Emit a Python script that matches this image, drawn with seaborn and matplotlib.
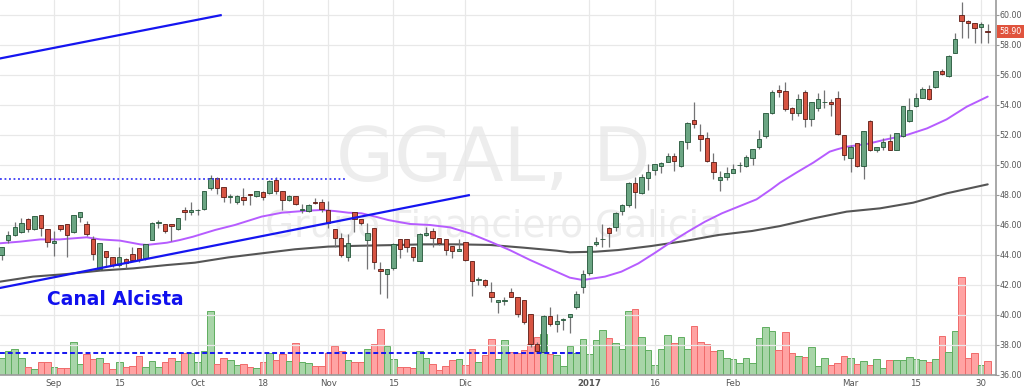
import matplotlib
matplotlib.use("Agg")
import matplotlib.pyplot as plt
import matplotlib.transforms as mtransforms
import numpy as np
import pandas as pd
import seaborn as sns

# ---------------- data ----------------
opens = [44.0, 45.0, 45.33, 45.56, 46.4, 45.71, 46.67, 45.71, 44.78, 46.0,
         46.07, 45.51, 46.56, 46.04, 45.04, 43.07, 44.27, 43.84, 43.33, 43.76,
         44.04, 44.44, 43.78, 45.0, 46.11, 46.07, 46.07, 45.76, 47.0, 46.84,
         46.98, 47.04, 48.49, 49.16, 48.51, 47.88, 47.51, 47.89, 48.07, 47.96,
         48.22, 48.11, 49.0, 48.27, 47.67, 47.93, 47.0, 46.96, 47.51, 47.51,
         47.0, 45.71, 45.16, 43.89, 46.89, 46.4, 45.0, 45.78, 43.04, 42.71,
         43.11, 45.04, 45.04, 44.51, 43.6, 45.31, 45.62, 45.11, 45.04, 44.6,
         44.27, 44.87, 43.6, 42.36, 42.33, 41.56, 40.84, 40.93, 41.56, 41.18,
         41.0, 40.04, 38.04, 37.56, 39.96, 39.38, 39.7, 39.84, 40.51, 41.84,
         42.78, 44.71, 45.04, 45.82, 45.89, 46.96, 47.33, 48.82, 48.16, 49.11,
         49.67, 49.93, 50.22, 50.6, 49.93, 51.56, 53.0, 52.0, 51.78, 50.22,
         49.0, 49.22, 49.49, 49.98, 49.96, 50.44, 51.18, 51.93, 53.44, 55.0,
         54.93, 53.78, 53.44, 54.84, 53.04, 53.78, 54.17, 54.18, 54.49, 52.0,
         50.44, 51.44, 49.96, 52.96, 51.0, 51.18, 51.58, 51.0, 51.93, 52.96,
         53.93, 54.49, 55.07, 55.18, 56.29, 55.96, 57.49, 60.0, 59.6, 59.44,
         59.22, 58.93]
highs = [44.55, 45.62, 46.22, 46.44, 46.44, 46.62, 46.67, 45.73, 45.6, 46.02,
         46.1, 46.67, 46.84, 46.29, 45.27, 44.8, 44.3, 43.86, 44.56, 43.78,
         44.56, 44.46, 44.75, 46.2, 46.33, 46.1, 46.1, 46.5, 47.22, 47.56,
         47.1, 48.3, 49.33, 49.2, 48.53, 48.1, 48.0, 48.44, 48.1, 48.3,
         48.24, 49.0, 49.22, 48.3, 48.0, 47.95, 47.4, 47.4, 47.78, 47.73,
         47.62, 45.73, 45.44, 45.4, 46.9, 46.42, 46.11, 45.8, 43.56, 43.1,
         44.8, 45.1, 45.06, 44.55, 45.44, 45.89, 45.78, 45.13, 45.1, 44.62,
         45.04, 44.9, 43.62, 42.56, 42.4, 42.22, 41.0, 41.2, 41.78, 41.2,
         41.02, 40.06, 38.2, 40.0, 40.56, 40.07, 39.8, 40.1, 41.6, 43.0,
         44.6, 45.18, 46.04, 45.84, 46.9, 47.4, 48.9, 49.22, 49.4, 50.04,
         50.1, 50.2, 50.82, 50.82, 51.6, 52.9, 54.18, 52.73, 52.2, 50.78,
         49.6, 49.84, 50.1, 50.22, 50.7, 51.1, 52.33, 53.5, 55.0, 55.33,
         55.51, 53.9, 54.73, 55.0, 54.2, 54.78, 55.0, 54.38, 54.96, 52.02,
         51.33, 51.46, 52.27, 53.0, 51.22, 51.78, 52.1, 52.11, 53.93, 54.44,
         54.78, 55.18, 55.33, 56.3, 56.4, 57.33, 58.78, 60.84, 59.7, 59.5,
         59.56, 59.38]
lows = [43.67, 44.82, 45.3, 45.49, 45.56, 45.7, 45.27, 44.56, 43.93, 45.6,
        43.89, 45.5, 46.22, 45.3, 43.67, 43.0, 43.29, 43.18, 43.18, 43.11,
        43.6, 43.51, 43.67, 45.0, 45.78, 45.5, 44.96, 45.7, 46.33, 46.67,
        46.67, 47.0, 48.33, 48.04, 47.56, 47.44, 47.4, 47.33, 47.33, 47.9,
        47.67, 48.1, 48.04, 47.0, 47.6, 47.33, 46.8, 46.9, 47.4, 46.9,
        45.78, 44.56, 43.9, 43.62, 45.56, 46.0, 43.04, 43.04, 41.38, 41.16,
        43.0, 43.78, 44.18, 43.6, 43.58, 45.3, 44.51, 44.7, 44.0, 43.78,
        44.25, 43.6, 41.27, 42.0, 41.84, 40.89, 40.11, 40.7, 41.2, 39.89,
        39.4, 37.89, 37.5, 37.5, 39.3, 38.89, 39.0, 38.78, 40.4, 41.49,
        42.7, 44.6, 44.56, 44.56, 45.6, 46.67, 47.2, 47.11, 48.1, 48.33,
        49.33, 49.5, 50.2, 49.62, 49.9, 51.04, 52.44, 50.93, 50.2, 49.04,
        48.29, 49.0, 49.45, 49.55, 49.9, 50.0, 51.1, 51.8, 53.4, 54.51,
        53.6, 53.0, 53.3, 52.56, 52.6, 53.6, 53.8, 53.29, 52.0, 50.33,
        49.56, 49.9, 49.07, 50.95, 50.9, 51.0, 51.0, 51.0, 51.9, 52.9,
        53.9, 54.45, 54.35, 55.15, 56.0, 55.9, 57.45, 58.49, 58.44, 58.16,
        58.16, 58.16]
closes = [44.51, 45.33, 45.89, 46.16, 45.73, 46.62, 45.78, 44.89, 44.96, 45.71,
          45.33, 46.67, 46.84, 45.38, 44.04, 44.78, 43.89, 43.33, 43.84, 43.44,
          43.67, 43.67, 44.71, 46.11, 46.2, 45.6, 45.96, 46.44, 46.87, 47.0,
          47.0, 48.27, 49.16, 48.49, 47.84, 47.93, 47.93, 47.67, 48.02, 48.27,
          47.89, 48.93, 48.29, 47.67, 47.93, 47.4, 47.04, 47.33, 47.44, 47.04,
          46.16, 45.11, 44.0, 44.82, 46.38, 46.11, 45.44, 43.56, 42.93, 43.04,
          44.71, 44.38, 44.51, 43.89, 45.4, 45.49, 45.16, 44.78, 44.33, 44.27,
          44.4, 43.67, 42.27, 42.38, 42.0, 41.22, 41.0, 40.96, 41.22, 40.04,
          39.51, 38.04, 37.6, 39.96, 39.38, 39.62, 39.71, 40.07, 41.4, 42.71,
          44.6, 44.89, 45.07, 45.49, 46.82, 47.33, 48.78, 48.22, 49.18, 49.56,
          50.07, 50.16, 50.6, 50.29, 51.6, 52.82, 52.73, 51.73, 50.29, 49.56,
          49.22, 49.49, 49.73, 50.0, 50.51, 51.04, 51.71, 53.44, 54.89, 54.89,
          53.71, 53.49, 54.38, 53.07, 54.18, 54.38, 54.18, 54.07, 52.07, 50.67,
          51.22, 49.96, 52.27, 51.0, 51.22, 51.56, 51.0, 52.11, 53.93, 53.67,
          54.49, 55.07, 54.38, 56.27, 56.07, 57.29, 58.38, 59.6, 59.44, 59.11,
          59.38, 58.9]
volumes = [1.67, 2.4, 2.57, 1.73, 0.83, 0.63, 1.33, 1.3, 0.83, 0.67,
           0.73, 3.3, 1.07, 2.07, 1.63, 1.73, 1.23, 0.57, 1.3, 0.8,
           0.9, 1.9, 0.83, 1.4, 0.8, 1.33, 1.67, 1.4, 2.23, 2.23,
           1.3, 2.4, 6.4, 1.07, 1.73, 1.47, 1.0, 1.07, 0.8, 0.67,
           1.33, 2.23, 1.47, 2.13, 1.4, 3.17, 1.3, 1.2, 0.9, 0.9,
           2.23, 2.9, 2.4, 1.47, 1.33, 1.33, 2.57, 3.07, 4.57, 2.9,
           1.57, 0.8, 0.8, 0.67, 2.4, 1.73, 1.07, 0.5, 0.9, 1.47,
           1.57, 1.0, 2.57, 1.3, 2.0, 3.57, 1.57, 3.47, 2.3, 2.23,
           2.47, 3.07, 3.8, 4.07, 2.07, 2.0, 0.9, 2.9, 2.23, 3.57,
           2.13, 3.47, 4.47, 3.73, 3.17, 2.57, 6.4, 6.57, 3.8, 2.47,
           1.0, 2.57, 4.0, 3.17, 3.8, 2.57, 4.9, 3.3, 3.07, 2.4,
           2.47, 1.73, 1.57, 1.23, 1.73, 1.23, 3.67, 4.83, 4.4, 2.47,
           4.33, 2.23, 1.9, 1.8, 2.83, 0.9, 1.73, 0.97, 1.23, 1.9,
           1.73, 1.13, 1.4, 1.0, 1.57, 0.73, 1.5, 1.5, 1.5, 1.8,
           1.63, 1.5, 1.33, 1.57, 3.9, 2.33, 4.4, 9.8, 1.73, 2.23,
           1.0, 1.4]

tick_idx = [8, 18, 30, 40, 50, 60, 71, 90, 100, 112, 130, 140, 150]
tick_labels = ['Sep', '15', 'Oct', '18', 'Nov', '15', 'Dic', '2017', '16',
               'Feb', 'Mar', '15', '30']

ma_fast_idx = [-0.3, 2.8, 5.9, 8.9, 13.0, 15.1, 18.1, 21.2, 22.2, 25.3, 27.3,
               29.3, 32.7, 35.7, 39.8, 42.9, 44.9, 47.0, 49.0, 51.0, 53.1, 55.1,
               57.2, 59.2, 62.5, 65.6, 68.7, 71.7, 74.8, 77.8, 80.9, 84.0, 87.0,
               89.0, 92.4, 94.9, 97.5, 100.1, 102.6, 105.1, 107.7, 110.3, 112.8,
               115.6, 117.9, 119.2, 121.7, 124.3, 126.8, 127.9, 129.4, 132.5,
               135.5, 138.6, 141.7, 144.7, 147.8, 151.0]
ma_fast = [44.78, 44.89, 45.04, 45.04, 45.18, 45.04, 44.96, 44.71, 44.67, 44.82,
           45.0, 45.22, 45.67, 46.0, 46.56, 46.82, 46.89, 46.96, 47.0, 46.93,
           46.82, 46.78, 46.56, 46.33, 46.07, 46.0, 45.84, 45.44, 44.89, 44.33,
           43.67, 43.07, 42.49, 42.33, 42.56, 42.89, 43.44, 44.16, 44.89, 45.56,
           46.22, 46.78, 47.22, 47.71, 48.4, 48.82, 49.49, 50.16, 50.89, 51.04,
           51.22, 51.4, 51.71, 52.0, 52.44, 53.04, 53.89, 54.56]
ma_slow_idx = [-0.3, 4.8, 9.95, 15.1, 20.2, 25.3, 29.6, 34.7, 39.8, 44.9, 50.0,
               55.1, 61.0, 64.6, 69.7, 74.8, 79.9, 85.0, 87.0, 90.9, 94.4, 99.5,
               104.6, 109.7, 114.9, 119.2, 124.3, 129.4, 134.5, 139.6, 144.7,
               151.0]
ma_slow = [42.22, 42.56, 42.73, 42.96, 43.11, 43.33, 43.49, 43.84, 44.11, 44.38,
           44.56, 44.62, 44.67, 44.71, 44.71, 44.67, 44.49, 44.29, 44.18, 44.22,
           44.33, 44.6, 44.93, 45.33, 45.6, 45.93, 46.44, 46.89, 47.11, 47.49,
           48.11, 48.71]

price_ticks = list(range(36, 61, 2))
last_price = 58.90

trend_upper_x = [-0.3, 33.7]
trend_upper_y = [57.1, 60.0]
trend_lower_x = [-0.3, 71.7]
trend_lower_y = [41.8, 48.0]
resist_x = [-0.3, 52.9]
resist_level = 49.07
vol_line_x = [-0.3, 88.6]
vol_line_level = 37.5

symbol = "GGAL, D"
company = "Grupo Financiero Galicia"
annotation = "Canal Alcista"

# ---------------- styling ----------------
sns.set_style("white")
plt.rcParams['font.family'] = ['DejaVu Sans']

UP, UP_EDGE = '#6ba583', '#225437'
DN, DN_EDGE = '#d75442', '#5b1a13'
VUP, VUP_EDGE = '#a8d5a8', '#5fae5f'
VDN, VDN_EDGE = '#ffa3a3', '#f06a6a'
GRID = '#e8e8e8'
TXT = '#555555'
FS = 5.7

df = pd.DataFrame({'open': opens, 'high': highs, 'low': lows,
                   'close': closes, 'volume': volumes})
df['idx'] = np.arange(len(df))
df['up'] = df['close'] >= df['open']

W, H = 1024, 390
fig = plt.figure(figsize=(W / 100, H / 100), dpi=100)
rect = [0, 15 / H, 996 / W, 375 / H]
xlim = (-0.26, 152.27)

# volume pane (behind)
axv = fig.add_axes(rect)
axv.set_xlim(*xlim)
axv.set_ylim(0, 37.5)
axv.bar(df['idx'], df['volume'], width=1.0,
        color=np.where(df['up'], VUP, VDN),
        edgecolor=np.where(df['up'], VUP_EDGE, VDN_EDGE), linewidth=0.7)
axv.axis('off')

# price pane (front)
ax = fig.add_axes(rect)
ax.patch.set_visible(False)
ax.set_xlim(*xlim)
ax.set_ylim(36.0, 61.0)

# watermark
ax.text(0.495, 0.516, symbol, transform=ax.transAxes, ha='center',
        va='baseline', fontsize=54, color='#ededed', zorder=0)
ax.text(0.495, 0.368, company, transform=ax.transAxes, ha='center',
        va='baseline', fontsize=27, color='#ededed', zorder=0)

# grid
for t in tick_idx:
    ax.axvline(t, color=GRID, lw=0.9, zorder=0.5)
for p in price_ticks:
    ax.axhline(p, color=GRID, lw=0.9, zorder=0.5)

# moving averages via seaborn
sns.lineplot(x=ma_slow_idx, y=ma_slow, ax=ax, color='#555555', lw=1.5,
             zorder=2)
sns.lineplot(x=ma_fast_idx, y=ma_fast, ax=ax, color='#b65cff', lw=1.4,
             zorder=2)

# candles
ax.vlines(df['idx'], df['low'], df['high'], color='#737375', lw=0.9, zorder=3)
body_lo = np.minimum(df['open'], df['close'])
body_h = np.maximum(np.abs(df['close'] - df['open']), 0.04)
ax.bar(df['idx'], body_h, bottom=body_lo, width=0.68,
       color=np.where(df['up'], UP, DN),
       edgecolor=np.where(df['up'], UP_EDGE, DN_EDGE), linewidth=0.6, zorder=4)

# drawings
ax.plot(trend_upper_x, trend_upper_y, color='#1515f0', lw=1.6, zorder=5,
        solid_capstyle='butt')
ax.plot(trend_lower_x, trend_lower_y, color='#1515f0', lw=1.6, zorder=5,
        solid_capstyle='butt')
ax.plot(resist_x, [resist_level] * 2, color='#3b3bf5', lw=1.3,
        linestyle=(0, (1, 1.5)), zorder=5)
ax.plot(vol_line_x, [vol_line_level] * 2, color='#1515f0', lw=1.4,
        linestyle=(0, (2.5, 1.5)), zorder=5)
ax.text(0.047, 0.187, annotation, transform=ax.transAxes, ha='left',
        va='baseline', fontsize=13.5, fontweight='bold', color='#1010ee',
        zorder=6)

# axes / ticks
ax.set_xticks(tick_idx)
ax.set_xticklabels(tick_labels)
for lab in ax.get_xticklabels():
    if lab.get_text() == '2017':
        lab.set_fontweight('bold')
ax.set_yticks(price_ticks)
ax.set_yticklabels([f"{p:.2f}" for p in price_ticks])
ax.yaxis.tick_right()
ax.tick_params(axis='x', length=0, pad=3.2, labelsize=6.2, labelcolor=TXT)
ax.tick_params(axis='y', length=2.0, width=0.8, color='#999999', pad=0.4,
               labelsize=FS, labelcolor=TXT, right=True, left=False)
ax.set_xlabel('')
ax.set_ylabel('')
for s in ['top', 'left']:
    ax.spines[s].set_visible(False)
for s in ['right', 'bottom']:
    ax.spines[s].set_color('#9a9a9a')
    ax.spines[s].set_linewidth(1.2)

# last price tag
trans = mtransforms.blended_transform_factory(ax.transAxes, ax.transData)
ax.text(1.0032, last_price, f"{last_price:.2f}", transform=trans, ha='left',
        va='center', fontsize=FS, color='white',
        bbox=dict(boxstyle='square,pad=0.3', fc='#e0533d', ec='none'),
        zorder=10, clip_on=False)

fig.savefig('out.png', dpi=100)
